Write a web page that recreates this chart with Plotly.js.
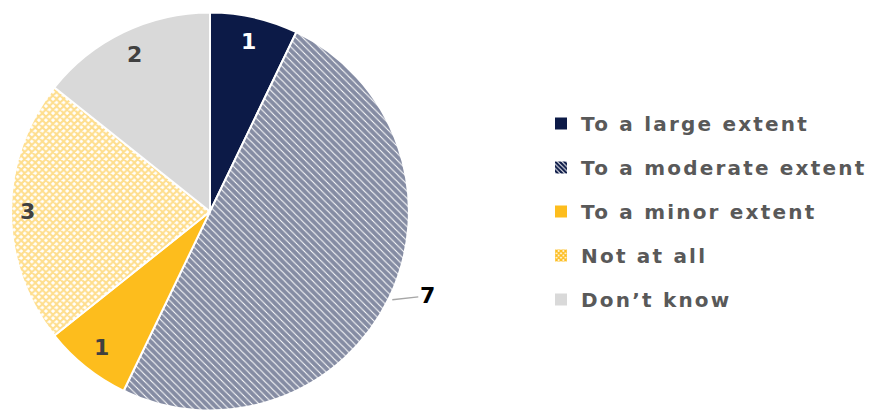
<!DOCTYPE html>
<html>
<head>
<meta charset="utf-8">
<script src="https://cdn.plot.ly/plotly-3.0.1.min.js"></script>
<style>html,body{margin:0;padding:0;background:#fff;}#chart{width:870px;height:412px;}</style>
</head>
<body>
<div id="chart"></div>
<script>
const categories = ["To a large extent", "To a moderate extent", "To a minor extent", "Not at all", "Don\u2019t know"];
const values = [1, 7, 1, 3, 2];
const labelTexts = ["1", "7", "1", "3", "2"];

const colors = ["#0C1A47", "#0C1A47", "#FDBD1D", "#FDBD1D", "#D9D9D9"];
const patternShapes = ["", "\\", "", "x", ""];
const labelColors = ["#FFFFFF", "#000000", "#404040", "#404040", "#404040"];

const W = 870, H = 412;
const cx = 210, cy = 211.5, R = 199;

const pattern = {
  shape: patternShapes,
  fgcolor: colors,
  bgcolor: patternShapes.map(s => s ? "#FFFFFF" : undefined),
  size: patternShapes.map(s => s === "x" ? 5 : 5),
  solidity: patternShapes.map(s => s === "x" ? 0.65 : 0.8),
  fillmode: "overlay"
};

const pieTrace = {
  type: "pie",
  labels: categories,
  values: values,
  sort: false,
  direction: "clockwise",
  rotation: 0,
  textinfo: "none",
  hoverinfo: "label+value",
  showlegend: false,
  marker: {
    colors: colors.map((c, i) => patternShapes[i] ? "#FFFFFF" : c),
    line: {color: "#FFFFFF", width: 2},
    pattern: pattern
  },
  domain: {x: [(cx - R) / W, (cx + R) / W], y: [(H - cy - R) / H, (H - cy + R) / H]}
};

// legend-only traces
const legendTraces = categories.map((c, i) => ({
  type: "bar",
  x: [null], y: [null],
  name: c,
  legendgroup: "g" + i,
  showlegend: true,
  hoverinfo: "skip",
  marker: {
    color: patternShapes[i] ? "#FFFFFF" : colors[i],
    pattern: patternShapes[i] ? {shape: patternShapes[i], fgcolor: colors[i], bgcolor: "#FFFFFF", size: 4, solidity: 0.7} : {shape: ""}
  }
}));

// data labels
const total = values.reduce((a, b) => a + b, 0);
let cum = 0;
const annotations = [];
values.forEach((v, i) => {
  const mid = (cum + v / 2) / total * 2 * Math.PI;
  cum += v;
  const s = Math.sin(mid), c = Math.cos(mid);
  if (i === 1) {
    const tipx = cx + R * s + 3, tipy = cy - R * c + 2;
    annotations.push({
      xref: "paper", yref: "paper",
      x: tipx / W, y: 1 - tipy / H,
      text: labelTexts[i],
      showarrow: true, arrowhead: 0, arrowwidth: 1.5, arrowcolor: "#A6A6A6",
      ax: 35, ay: -4, standoff: 0,
      font: {family: "DejaVu Sans", size: 22, color: labelColors[i], weight: "bold"}
    });
  } else {
    const rf = (i === 3) ? 0.915 : 0.875;
    const px = cx + R * rf * s, py = cy - R * rf * c;
    annotations.push({
      xref: "paper", yref: "paper",
      x: px / W, y: 1 - py / H,
      xanchor: "center", yanchor: "middle",
      text: labelTexts[i], showarrow: false,
      font: {family: "DejaVu Sans", size: 22, color: labelColors[i], weight: "bold"}
    });
  }
});

const layout = {
  width: W, height: H,
  margin: {l: 0, r: 0, t: 0, b: 0},
  paper_bgcolor: "#FFFFFF",
  plot_bgcolor: "rgba(0,0,0,0)",
  xaxis: {visible: false, domain: [0.99, 1]},
  yaxis: {visible: false, domain: [0.99, 1]},
  showlegend: true,
  legend: {
    x: 541 / W, xanchor: "left",
    y: 1 - 104 / H, yanchor: "top",
    traceorder: "grouped",
    tracegroupgap: 15,
    font: {family: "DejaVu Sans", size: 20, color: "#595959", weight: "bold"},
    bgcolor: "rgba(0,0,0,0)"
  },
  annotations: annotations
};

Plotly.newPlot("chart", [pieTrace, ...legendTraces], layout, {displayModeBar: false, staticPlot: true}).then(gd => {
  gd.querySelectorAll(".legend text.legendtext").forEach(t => t.setAttribute("letter-spacing", "2.2px"));
  gd.querySelectorAll(".legend [clip-path]").forEach(el => el.removeAttribute("clip-path"));
});
</script>
</body>
</html>
